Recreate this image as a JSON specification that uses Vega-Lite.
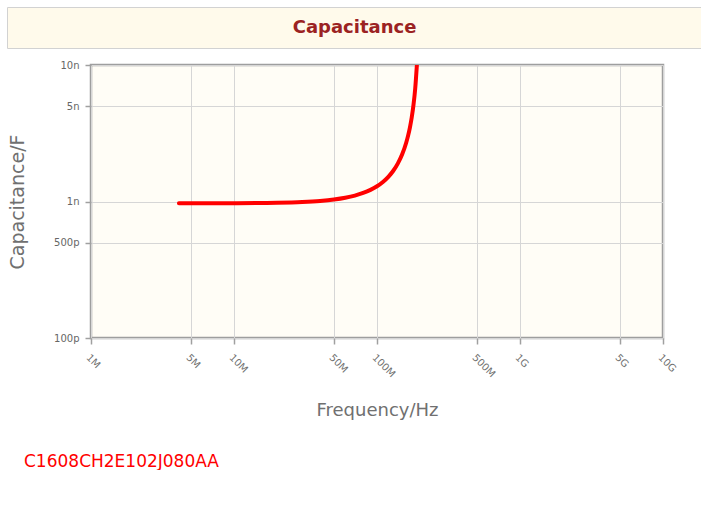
{
  "$schema": "https://vega.github.io/schema/vega-lite/v6.json",
  "padding": {"left": 6, "top": 6, "right": 0, "bottom": 0},
  "background": "#ffffff",
  "bounds": "flush",
  "spacing": 17,
  "config": {"font": "DejaVu Sans"},
  "vconcat": [
    {
      "width": 695,
      "height": 41,
      "view": {"fill": "#fffaeb", "stroke": "#d2d2d2", "strokeWidth": 1},
      "data": {"values": [{"t": "Capacitance"}]},
      "mark": {"type": "text", "font": "DejaVu Sans", "fontSize": 18, "fontWeight": "bold", "color": "#9b2222", "baseline": "middle", "align": "center"},
      "encoding": {"text": {"field": "t"}}
    },
    {
      "bounds": "flush",
      "spacing": 0,
      "hconcat": [
        {
          "width": 84,
          "height": 273,
          "view": {"stroke": null},
          "data": {"values": [{"t": ""}]},
          "mark": {"type": "text"},
          "encoding": {"text": {"field": "t"}}
        },
        {
          "width": 572,
          "height": 273,
          "view": {"fill": "#fffdf6", "stroke": "#9e9e9e", "strokeWidth": 2.5},
          "data": {"values": [
            {"f": 4.12, "c": 0.9704, "s": "C1608CH2E102J080AA"},
            {"f": 6, "c": 0.9709, "s": "C1608CH2E102J080AA"},
            {"f": 10, "c": 0.9724, "s": "C1608CH2E102J080AA"},
            {"f": 20, "c": 0.9798, "s": "C1608CH2E102J080AA"},
            {"f": 30, "c": 0.9923, "s": "C1608CH2E102J080AA"},
            {"f": 40, "c": 1.0104, "s": "C1608CH2E102J080AA"},
            {"f": 50, "c": 1.0347, "s": "C1608CH2E102J080AA"},
            {"f": 60, "c": 1.0659, "s": "C1608CH2E102J080AA"},
            {"f": 70, "c": 1.1054, "s": "C1608CH2E102J080AA"},
            {"f": 80, "c": 1.1548, "s": "C1608CH2E102J080AA"},
            {"f": 90, "c": 1.2163, "s": "C1608CH2E102J080AA"},
            {"f": 100, "c": 1.2933, "s": "C1608CH2E102J080AA"},
            {"f": 110, "c": 1.3907, "s": "C1608CH2E102J080AA"},
            {"f": 120, "c": 1.5156, "s": "C1608CH2E102J080AA"},
            {"f": 130, "c": 1.6797, "s": "C1608CH2E102J080AA"},
            {"f": 140, "c": 1.902, "s": "C1608CH2E102J080AA"},
            {"f": 150, "c": 2.2171, "s": "C1608CH2E102J080AA"},
            {"f": 160, "c": 2.6944, "s": "C1608CH2E102J080AA"},
            {"f": 165, "c": 3.0372, "s": "C1608CH2E102J080AA"},
            {"f": 170, "c": 3.4955, "s": "C1608CH2E102J080AA"},
            {"f": 175, "c": 4.1387, "s": "C1608CH2E102J080AA"},
            {"f": 180, "c": 5.1053, "s": "C1608CH2E102J080AA"},
            {"f": 185, "c": 6.7186, "s": "C1608CH2E102J080AA"},
            {"f": 190, "c": 9.949, "s": "C1608CH2E102J080AA"}
          ]},
          "mark": {"type": "line", "strokeWidth": 4, "interpolate": "monotone", "strokeCap": "round", "clip": true},
          "encoding": {
            "x": {
              "field": "f", "type": "quantitative",
              "scale": {"type": "log", "domain": [1, 10000], "nice": false},
              "axis": {
                "values": [1, 5, 10, 50, 100, 500, 1000, 5000, 10000],
                "labelExpr": "datum.value >= 1000 ? (datum.value/1000) + 'G' : datum.value + 'M'",
                "labelAngle": 45, "labelAlign": "left", "labelBaseline": "top",
                "labelPadding": 8, "labelFontSize": 10, "labelColor": "#707070", "labelFont": "DejaVu Sans",
                "domain": false, "tickColor": "#a0a0a0", "tickSize": 6, "tickWidth": 1.5,
                "grid": true, "gridColor": "#d6d6d6", "gridWidth": 1,
                "title": "Frequency/Hz", "titleFont": "DejaVu Sans", "titleFontSize": 18, "titleFontWeight": "normal", "titleColor": "#707070", "titlePadding": 23
              }
            },
            "y": {
              "field": "c", "type": "quantitative",
              "scale": {"type": "log", "domain": [0.1, 10], "nice": false},
              "axis": {
                "values": [0.1, 0.5, 1, 5, 10],
                "labelExpr": "datum.value >= 1 ? datum.value + 'n' : round(datum.value*1000) + 'p'",
                "labelPadding": 6, "labelFontSize": 10, "labelColor": "#666666", "labelFont": "DejaVu Sans",
                "domain": false, "tickColor": "#a0a0a0", "tickSize": 6, "tickWidth": 1.5,
                "grid": true, "gridColor": "#d6d6d6", "gridWidth": 1,
                "title": "Capacitance/F", "titleFont": "DejaVu Sans", "titleFontSize": 19, "titleFontWeight": "normal", "titleColor": "#707070", "titlePadding": 26
              }
            },
            "color": {
              "field": "s", "type": "nominal",
              "scale": {"range": ["#ff0000"]},
              "legend": {
                "title": null, "orient": "none", "legendX": 0, "legendY": 446,
                "symbolSize": 0, "symbolOpacity": 0, "symbolStrokeWidth": 0, "labelOffset": 0,
                "labelColor": "#ff0000", "labelFontSize": 17, "labelFont": "DejaVu Sans", "labelLimit": 400
              }
            }
          }
        }
      ]
    }
  ]
}
